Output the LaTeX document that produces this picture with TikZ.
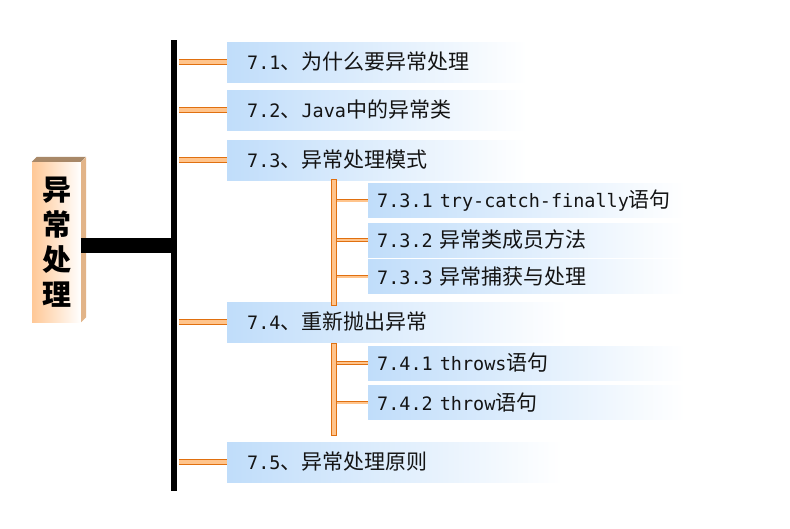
\documentclass[tikz,border=0pt]{standalone}
\usepackage{fontspec}
\newfontfamily\cjk{Noto Sans CJK SC}
\newfontfamily\monof{DejaVu Sans Mono}[Scale=0.88]
\newcommand\mm[1]{{\monof #1}}
\definecolor{boxblue}{RGB}{192,221,250}
\definecolor{conorange}{RGB}{224,112,16}
\definecolor{conlight}{RGB}{255,196,140}
\definecolor{titleorange}{RGB}{255,200,150}
\definecolor{topface}{RGB}{168,136,104}
\definecolor{sideface}{RGB}{226,180,136}
\definecolor{txt}{RGB}{20,20,20}
\begin{document}
\begin{tikzpicture}[x=1pt,y=-1pt,
  itembox/.style={rectangle, anchor=west, left color=boxblue, right color=white,
    inner ysep=0pt, align=left, text=txt,
    font=\cjk\fontsize{21}{24}\selectfont},
  topbox/.style={itembox, minimum height=40pt, inner xsep=20pt},
  subbox/.style={itembox, minimum height=34pt, inner xsep=9pt, text width=299pt},
  topconn/.style={draw=conorange, line width=1pt, double=conlight, double distance=4pt},
  subconn/.style={draw=conorange, line width=0.8pt, double=conlight, double distance=2pt},
  subbar/.style={rectangle, draw=conorange, fill=conlight, line width=1pt, minimum width=5pt, inner sep=0pt}
]
\useasboundingbox[fill=white] (0,0) rectangle (790,528);

% title block
\node[rectangle, left color=titleorange, right color=white, minimum width=49pt, minimum height=160pt,
  inner sep=0pt, align=center, text=black,
  font=\cjk\bfseries\fontsize{29}{35}\selectfont] (title) at (56.5,242) {异\\常\\处\\理};
\fill[topface] (title.north west) -- ++(5,-5) -- ++(49,0) -- (title.north east) -- cycle;
\fill[sideface] (title.north east) -- ++(5,-5) -- ([shift={(5pt,5pt)}]title.south east) -- (title.south east) -- cycle;

% trunk
\node[rectangle, fill=black, minimum width=6pt, minimum height=451pt, inner sep=0pt] (trunk) at (174,265.5) {};
\coordinate (tb) at ([yshift=-3.5pt]title.east);
\draw[line width=15pt] (tb) -- (tb -| trunk.west);

% top-level boxes
\node[topbox, text width=260pt] (b1) at (227,62) {\mbox{\mm{7.1}、为什么要异常处理}};
\node[topbox, text width=260pt] (b2) at (227,110) {\mbox{\mm{7.2}、\mm{Java}中的异常类}};
\node[topbox, text width=260pt] (b3) at (227,160) {\mbox{\mm{7.3}、异常处理模式}};
\node[topbox, text width=300pt] (b4) at (227,322) {\mbox{\mm{7.4}、重新抛出异常}};
\node[topbox, text width=295pt] (b5) at (227,462) {\mbox{\mm{7.5}、异常处理原则}};

% sub boxes
\node[subbox] (b31) at (368,200.5) {\mbox{\mm{7.3.1 try-catch-finally}语句}};
\node[subbox] (b32) at (368,240) {\mbox{\mm{7.3.2\ }异常类成员方法}};
\node[subbox] (b33) at (368,276.5) {\mbox{\mm{7.3.3\ }异常捕获与处理}};
\node[subbox] (b41) at (368,363) {\mbox{\mm{7.4.1 throws}语句}};
\node[subbox] (b42) at (368,402.5) {\mbox{\mm{7.4.2 throw}语句}};

% connectors to trunk
\foreach \b in {b1,b2,b3,b4,b5}
  \draw[topconn] ([xshift=2pt]trunk.east |- \b.west) -- (\b.west);

% sub bars
\node[subbar, minimum height=126pt] (v3) at (333.5,242) {};
\node[subbar, minimum height=92pt] (v4) at (333.5,389) {};
\foreach \b in {b31,b32,b33}
  \draw[subconn] (v3.east |- \b.west) -- (\b.west);
\foreach \b in {b41,b42}
  \draw[subconn] (v4.east |- \b.west) -- (\b.west);
\end{tikzpicture}
\end{document}
